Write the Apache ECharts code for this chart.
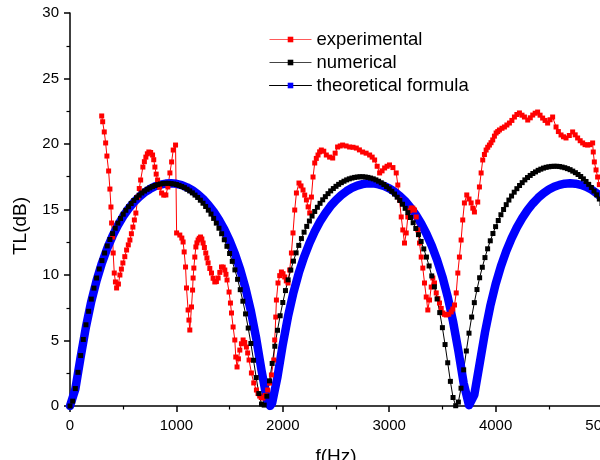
<!DOCTYPE html>
<html>
<head>
<meta charset="utf-8">
<script src="https://cdn.jsdelivr.net/npm/echarts@6/dist/echarts.min.js"></script>
<style>
    html, body {margin: 0; padding: 0; background: #fff;}
    #chartWrap {width: 600px; height: 460px;}
</style>
</head>
<body>
<div id="chartWrap"></div>
<script>
// experimental TL curve
const expFreq = [
    298, 307, 322, 335, 347, 363, 375, 385, 391, 401, 406, 416, 427, 438, 455, 469, 483, 497, 515, 532,
    548, 563, 577, 591, 605, 619, 638, 651, 664, 685, 699, 713, 727, 741, 758, 776, 787, 798, 810, 823,
    842, 861, 881, 901, 920, 939, 955, 970, 992, 1002, 1032, 1051, 1063, 1073, 1086, 1095, 1110, 1118, 1126, 1142,
    1152, 1157, 1164, 1173, 1183, 1193, 1204, 1215, 1227, 1239, 1251, 1263, 1276, 1287, 1298, 1314, 1330, 1345, 1361, 1376,
    1392, 1408, 1424, 1440, 1455, 1466, 1476, 1495, 1508, 1518, 1533, 1549, 1558, 1570, 1583, 1596, 1611, 1627, 1642, 1658,
    1670, 1683, 1705, 1727, 1752, 1767, 1783, 1797, 1812, 1835, 1858, 1876, 1893, 1915, 1924, 1934, 1940, 1955, 1971, 1987,
    2002, 2018, 2033, 2049, 2065, 2081, 2096, 2112, 2128, 2152, 2171, 2190, 2206, 2222, 2238, 2253, 2269, 2284, 2300, 2315,
    2331, 2346, 2362, 2385, 2409, 2440, 2469, 2492, 2515, 2540, 2562, 2595, 2628, 2660, 2691, 2720, 2750, 2783, 2816, 2840,
    2863, 2887, 2910, 2933, 2957, 2980, 3003, 3035, 3066, 3081, 3097, 3113, 3128, 3144, 3160, 3175, 3191, 3207, 3222, 3238,
    3254, 3269, 3285, 3301, 3316, 3332, 3348, 3363, 3379, 3395, 3410, 3426, 3442, 3458, 3473, 3489, 3504, 3520, 3536, 3560,
    3583, 3598, 3614, 3630, 3645, 3660, 3676, 3691, 3707, 3729, 3750, 3770, 3786, 3801, 3832, 3848, 3864, 3879, 3895, 3911,
    3926, 3942, 3957, 3973, 3989, 4005, 4020, 4036, 4060, 4083, 4106, 4130, 4153, 4177, 4200, 4224, 4248, 4271, 4302, 4326,
    4349, 4372, 4395, 4418, 4442, 4465, 4489, 4512, 4536, 4568, 4590, 4615, 4638, 4662, 4693, 4724, 4748, 4771, 4795, 4818,
    4841, 4865, 4888, 4912, 4918, 4928, 4944, 4959, 4975
];
const expTL = [
    22.14, 21.70, 20.92, 20.08, 19.08, 17.94, 16.56, 15.19, 13.97, 12.90, 11.68, 10.15, 9.47, 9.01, 9.31, 10.00, 10.45, 10.92, 11.40, 11.91,
    12.30, 12.67, 13.15, 13.66, 14.20, 14.73, 15.95, 16.60, 17.25, 18.24, 18.65, 19.00, 19.25, 19.39, 19.35, 19.16, 18.80, 18.24, 17.70, 17.25,
    16.70, 16.26, 16.10, 16.11, 16.72, 17.79, 18.63, 19.54, 19.92, 13.21, 13.05, 12.82, 12.52, 11.76, 10.61, 9.01, 7.33, 6.56, 5.80, 7.56,
    8.85, 9.77, 10.53, 11.37, 12.14, 12.45, 12.67, 12.80, 12.90, 12.75, 12.44, 12.10, 11.68, 11.30, 10.92, 10.50, 10.15, 9.75, 9.47, 9.50,
    9.77, 10.20, 10.61, 10.60, 10.38, 10.05, 9.62, 8.70, 7.86, 7.10, 6.03, 5.04, 3.74, 2.98, 3.60, 4.27, 4.75, 5.04, 4.85, 4.50,
    4.05, 3.51, 2.52, 1.76, 1.22, 0.95, 0.76, 0.65, 0.61, 0.80, 1.22, 1.75, 2.37, 3.51, 5.04, 6.79, 8.09, 9.39, 9.95, 10.23,
    10.10, 9.85, 9.55, 9.39, 10.38, 11.68, 13.21, 14.96, 16.26, 17.02, 16.80, 16.49, 16.10, 15.73, 15.20, 14.73, 15.95, 17.48, 18.55, 18.90,
    19.16, 19.40, 19.54, 19.45, 19.16, 19.00, 18.93, 19.30, 19.77, 19.85, 19.92, 19.85, 19.77, 19.75, 19.69, 19.55, 19.39, 19.30, 19.16, 19.00,
    18.78, 18.30, 17.79, 17.95, 18.17, 18.30, 18.40, 18.20, 17.79, 16.87, 15.73, 14.43, 13.44, 12.44, 13.21, 14.43, 14.90, 15.11, 15.10, 14.96,
    14.43, 13.44, 12.44, 11.37, 10.53, 9.39, 8.32, 7.33, 8.09, 9.08, 9.77, 9.39, 8.63, 8.20, 7.86, 7.45, 7.10, 7.00, 6.95, 7.00,
    7.18, 7.40, 7.71, 8.63, 10.15, 11.37, 12.67, 14.20, 15.50, 16.11, 15.80, 15.50, 15.10, 14.81, 15.57, 16.72, 17.79, 18.78, 19.20, 19.54,
    19.75, 19.92, 20.10, 20.31, 20.60, 20.84, 20.95, 21.07, 21.20, 21.30, 21.45, 21.60, 21.80, 22.06, 22.25, 22.37, 22.20, 22.06, 21.83, 22.00,
    22.21, 22.35, 22.44, 22.20, 21.98, 21.80, 21.60, 21.85, 22.06, 21.30, 20.95, 20.69, 20.55, 20.46, 20.65, 20.92, 20.70, 20.46, 20.25, 20.08,
    19.95, 19.92, 19.95, 20.08, 19.39, 18.63, 18.02, 17.48, 16.90
];

// numerical TL curve
const numFreq = [
    0, 25, 50, 75, 100, 125, 150, 175, 200, 225, 250,
    275, 300, 325, 350, 375, 400, 425, 450, 475, 500,
    525, 550, 575, 600, 625, 650, 675, 700, 725, 750,
    775, 800, 825, 850, 875, 900, 925, 950, 975, 1000,
    1025, 1050, 1075, 1100, 1125, 1150, 1175, 1200, 1225, 1250,
    1275, 1300, 1325, 1350, 1375, 1400, 1425, 1450, 1475, 1500,
    1525, 1550, 1575, 1600, 1625, 1650, 1675, 1700, 1725, 1750,
    1775, 1800, 1825, 1850, 1875, 1900, 1925, 1950, 1975, 2000,
    2025, 2050, 2075, 2100, 2125, 2150, 2175, 2200, 2225, 2250,
    2275, 2300, 2325, 2350, 2375, 2400, 2425, 2450, 2475, 2500,
    2525, 2550, 2575, 2600, 2625, 2650, 2675, 2700, 2725, 2750,
    2775, 2800, 2825, 2850, 2875, 2900, 2925, 2950, 2975, 3000,
    3025, 3050, 3075, 3100, 3125, 3150, 3175, 3200, 3225, 3250,
    3275, 3300, 3325, 3350, 3375, 3400, 3425, 3450, 3475, 3500,
    3525, 3550, 3575, 3600, 3625, 3650, 3675, 3700, 3725, 3750,
    3775, 3800, 3825, 3850, 3875, 3900, 3925, 3950, 3975, 4000,
    4025, 4050, 4075, 4100, 4125, 4150, 4175, 4200, 4225, 4250,
    4275, 4300, 4325, 4350, 4375, 4400, 4425, 4450, 4475, 4500,
    4525, 4550, 4575, 4600, 4625, 4650, 4675, 4700, 4725, 4750,
    4775, 4800, 4825, 4850, 4875, 4900, 4925, 4950, 4975, 5000
];
const numTL = [
    0, 0.37, 1.33, 2.57, 3.85, 5.08, 6.20, 7.23, 8.16, 9.00, 9.77,
    10.46, 11.10, 11.68, 12.22, 12.71, 13.16, 13.57, 13.96, 14.31, 14.64,
    14.94, 15.21, 15.46, 15.69, 15.90, 16.09, 16.26, 16.41, 16.54, 16.65,
    16.75, 16.83, 16.90, 16.95, 16.98, 17.00, 17.00, 16.98, 16.95, 16.91,
    16.84, 16.76, 16.67, 16.55, 16.42, 16.27, 16.10, 15.92, 15.71, 15.48,
    15.23, 14.95, 14.65, 14.32, 13.96, 13.57, 13.15, 12.69, 12.19, 11.64,
    11.04, 10.39, 9.67, 8.88, 8.00, 7.03, 5.95, 4.77, 3.49, 2.17,
    0.95, 0.15, 0.07, 0.75, 1.92, 3.25, 4.56, 5.78, 6.89, 7.90,
    8.81, 9.63, 10.38, 11.06, 11.69, 12.26, 12.78, 13.27, 13.71, 14.12,
    14.50, 14.85, 15.17, 15.47, 15.74, 15.98, 16.21, 16.42, 16.60, 16.77,
    16.92, 17.05, 17.16, 17.26, 17.34, 17.40, 17.45, 17.48, 17.50, 17.50,
    17.48, 17.45, 17.40, 17.34, 17.26, 17.16, 17.04, 16.91, 16.75, 16.58,
    16.39, 16.18, 15.94, 15.69, 15.40, 15.09, 14.76, 14.39, 13.99, 13.55,
    13.08, 12.56, 11.99, 11.37, 10.69, 9.93, 9.10, 8.17, 7.13, 5.98,
    4.69, 3.30, 1.88, 0.65, 0.02, 0.30, 1.36, 2.76, 4.20, 5.56,
    6.79, 7.89, 8.89, 9.79, 10.59, 11.33, 12.00, 12.61, 13.17, 13.69,
    14.16, 14.60, 15.00, 15.37, 15.72, 16.03, 16.32, 16.59, 16.83, 17.05,
    17.26, 17.44, 17.60, 17.75, 17.87, 17.99, 18.08, 18.16, 18.22, 18.26,
    18.29, 18.30, 18.30, 18.28, 18.24, 18.19, 18.12, 18.04, 17.93, 17.81,
    17.67, 17.52, 17.34, 17.14, 16.92, 16.68, 16.41, 16.12, 15.80, 15.45
];

// theoretical formula curve
const theoFreq = [
    0, 50, 100, 150, 200, 250, 300, 350, 400, 450, 500,
    550, 600, 650, 700, 750, 800, 850, 900, 950, 1000,
    1050, 1100, 1150, 1200, 1250, 1300, 1350, 1400, 1450, 1500,
    1550, 1600, 1650, 1700, 1750, 1800, 1850, 1880,
    1900, 1950, 2000,
    2050, 2100, 2150, 2200, 2250, 2300, 2350, 2400, 2450, 2500,
    2550, 2600, 2650, 2700, 2750, 2800, 2850, 2900, 2950, 3000,
    3050, 3100, 3150, 3200, 3250, 3300, 3350, 3400, 3450, 3500,
    3550, 3600, 3650, 3700, 3750, 3760,
    3800, 3850, 3900, 3950, 4000,
    4050, 4100, 4150, 4200, 4250, 4300, 4350, 4400, 4450, 4500,
    4550, 4600, 4650, 4700, 4750, 4800, 4850, 4900, 4950, 5000
];
const theoTL = [
    0, 1.28, 3.73, 6.04, 7.98, 9.58, 10.91, 12.03, 12.98, 13.79, 14.48,
    15.06, 15.55, 15.96, 16.30, 16.56, 16.77, 16.90, 16.98, 17.00, 16.96,
    16.86, 16.69, 16.47, 16.17, 15.81, 15.36, 14.84, 14.21, 13.48, 12.62,
    11.61, 10.41, 8.98, 7.25, 5.16, 2.72, 0.51, 0,
    0.23, 2.22, 4.70,
    6.87, 8.66, 10.15, 11.38, 12.43, 13.32, 14.08, 14.72, 15.27, 15.72,
    16.10, 16.41, 16.65, 16.83, 16.94, 17.00, 16.99, 16.92, 16.80, 16.61,
    16.36, 16.03, 15.64, 15.16, 14.60, 13.93, 13.15, 12.24, 11.15, 9.87,
    8.33, 6.46, 4.22, 1.74, 0.06, 0,
    0.86, 3.23, 5.61, 7.63, 9.29,
    10.67, 11.82, 12.80, 13.64, 14.34, 14.95, 15.46, 15.89, 16.24, 16.52,
    16.73, 16.88, 16.97, 17.00, 16.97, 16.88, 16.73, 16.52, 16.24, 15.89
];

const seriesNames = ['experimental', 'numerical', 'theoretical formula'];
const fontFamily = 'Arial, "Liberation Sans", sans-serif';

function pairs(xs, ys) {
    return xs.map(function (x, i) {
        return [x, ys[i]];
    });
}

let myChart = echarts.init(document.getElementById('chartWrap'), null, {renderer: 'canvas'});

const axisCommon = {
    axisLine: {show: true, lineStyle: {color: '#000', width: 1.5}},
    axisTick: {show: true, inside: false, length: 6, lineStyle: {color: '#000', width: 1.5}},
    minorTick: {show: true, splitNumber: 2, length: 3.5, lineStyle: {color: '#000', width: 1.2}},
    splitLine: {show: false},
    axisLabel: {
        color: '#000', fontSize: 15, fontFamily: fontFamily,
        formatter: function (v) {
            return String(v);
        }
    },
    nameTextStyle: {color: '#000', fontSize: 19, fontFamily: fontFamily}
};

const option = {
    animation: false,
    backgroundColor: '#fff',
    grid: {left: 70, top: 13, width: 532, height: 393, containLabel: false, outerBoundsMode: 'none'},
    legend: {
        orient: 'vertical',
        left: 264,
        top: 25,
        itemWidth: 42,
        itemHeight: 7,
        itemGap: 4,
        textStyle: {color: '#000', fontSize: 18.5, fontFamily: fontFamily},
        data: [
            {name: seriesNames[0], itemStyle: {color: '#ff0000'}, lineStyle: {color: '#ff5a5a', width: 1}},
            {name: seriesNames[1], itemStyle: {color: '#000'}, lineStyle: {color: '#444', width: 1}},
            {name: seriesNames[2], itemStyle: {color: '#0000ff'}, lineStyle: {color: '#000', width: 1}}
        ]
    },
    xAxis: Object.assign({}, axisCommon, {
        type: 'value',
        min: 0,
        max: 5000,
        interval: 1000,
        name: 'f(Hz)',
        nameLocation: 'middle',
        nameGap: 41,
        axisLabel: Object.assign({}, axisCommon.axisLabel, {margin: 12})
    }),
    yAxis: Object.assign({}, axisCommon, {
        type: 'value',
        min: 0,
        max: 30,
        interval: 5,
        name: 'TL(dB)',
        nameLocation: 'middle',
        nameGap: 40,
        nameTextStyle: Object.assign({}, axisCommon.nameTextStyle, {padding: [0, 33, 0, 0]}),
        axisLabel: Object.assign({}, axisCommon.axisLabel, {margin: 11})
    }),
    series: [
        {
            name: seriesNames[0],
            type: 'line',
            data: pairs(expFreq, expTL),
            symbol: 'rect',
            symbolSize: 5,
            itemStyle: {color: '#ff0000'},
            lineStyle: {color: '#ff0000', width: 1}
        },
        {
            name: seriesNames[1],
            type: 'line',
            data: pairs(numFreq, numTL),
            symbol: 'rect',
            symbolSize: 5,
            itemStyle: {color: '#000'},
            lineStyle: {color: '#000', width: 1}
        },
        {
            name: seriesNames[2],
            type: 'line',
            data: pairs(theoFreq, theoTL),
            symbol: 'rect',
            showSymbol: false,
            itemStyle: {color: '#0000ff'},
            lineStyle: {color: '#0000ff', width: 8.5, join: 'round', cap: 'round'}
        }
    ]
};

myChart.setOption(option);
</script>
</body>
</html>
